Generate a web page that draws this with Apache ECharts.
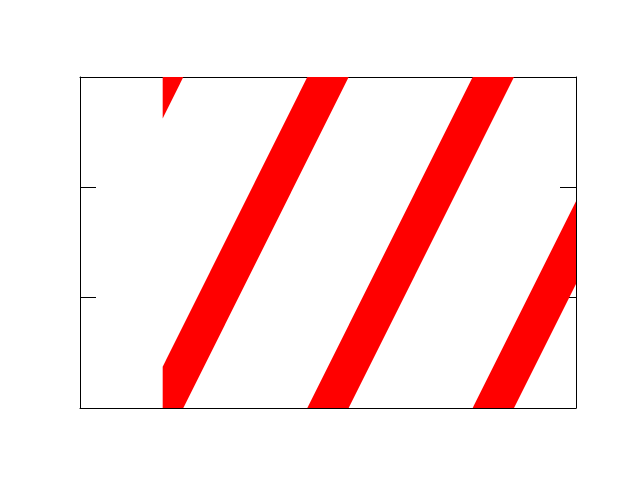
<!DOCTYPE html>
<html>
<head>
<meta charset="utf-8">
<script src="https://cdn.jsdelivr.net/npm/echarts@6/dist/echarts.min.js"></script>
<style>html,body{margin:0;padding:0;background:#fff;}#c{width:640px;height:480px;}</style>
</head>
<body>
<div id="c"></div>
<script>
// Stripe edges (data units): left/right edge at bottom (y=0) and at top (y=3)
const stripeLeftBottom  = [-1.25, 0.75, 2.75, 4.75];
const stripeRightBottom = [-0.75, 1.25, 3.25, 5.25];
const stripeLeftTop     = [0.75, 2.75, 4.75, 6.75];
const stripeRightTop    = [1.25, 3.25, 5.25, 7.25];
// Extent of the sampled data region
const dataXRange = [1, 6];
const dataYRange = [0, 3];
// Axis ranges
const xRange = [0, 6];
const yRange = [0, 3];
const yTickInterval = 1;

const stripes = stripeLeftBottom.map((v, i) =>
  [v, stripeRightBottom[i], stripeLeftTop[i], stripeRightTop[i]]);

function clipEdge(pts, inside, intersect) {
  const out = [];
  for (let i = 0; i < pts.length; i++) {
    const cur = pts[i], prev = pts[(i + pts.length - 1) % pts.length];
    const ci = inside(cur), pi = inside(prev);
    if (ci) {
      if (!pi) out.push(intersect(prev, cur));
      out.push(cur);
    } else if (pi) {
      out.push(intersect(prev, cur));
    }
  }
  return out;
}
function clipPoly(pts, x0, x1, y0, y1) {
  const ix = (x) => (a, b) => { const t = (x - a[0]) / (b[0] - a[0]); return [x, a[1] + t * (b[1] - a[1])]; };
  const iy = (y) => (a, b) => { const t = (y - a[1]) / (b[1] - a[1]); return [a[0] + t * (b[0] - a[0]), y]; };
  pts = clipEdge(pts, p => p[0] >= x0, ix(x0)); if (!pts.length) return pts;
  pts = clipEdge(pts, p => p[0] <= x1, ix(x1)); if (!pts.length) return pts;
  pts = clipEdge(pts, p => p[1] >= y0, iy(y0)); if (!pts.length) return pts;
  pts = clipEdge(pts, p => p[1] <= y1, iy(y1));
  return pts;
}

const chart = echarts.init(document.getElementById('c'), null, {renderer: 'canvas'});
const blackLine = {show: true, onZero: false, lineStyle: {color: '#000', width: 1}};
const tick = {show: true, inside: true, length: 16, lineStyle: {color: '#000', width: 1}};
chart.setOption({
  animation: false,
  backgroundColor: '#fff',
  grid: {left: 80, right: 64, top: 77, bottom: 72, containLabel: false},
  xAxis: [
    {type: 'value', min: xRange[0], max: xRange[1], position: 'bottom',
     axisLine: blackLine, axisTick: {show: false}, axisLabel: {show: false}, splitLine: {show: false}},
    {type: 'value', min: xRange[0], max: xRange[1], position: 'top',
     axisLine: blackLine, axisTick: {show: false}, axisLabel: {show: false}, splitLine: {show: false}}
  ],
  yAxis: [
    {type: 'value', min: yRange[0], max: yRange[1], interval: yTickInterval, position: 'left',
     axisLine: blackLine, axisTick: tick, axisLabel: {show: false}, splitLine: {show: false}},
    {type: 'value', min: yRange[0], max: yRange[1], interval: yTickInterval, position: 'right',
     axisLine: blackLine, axisTick: tick, axisLabel: {show: false}, splitLine: {show: false}}
  ],
  series: [{
    type: 'custom',
    xAxisIndex: 0, yAxisIndex: 0,
    clip: true,
    z: 1,
    data: stripes,
    encode: {x: [0, 1, 2, 3]},
    renderItem: function (params, api) {
      const lb = api.value(0), rb = api.value(1), lt = api.value(2), rt = api.value(3);
      let poly = [[lb, yRange[0]], [rb, yRange[0]], [rt, yRange[1]], [lt, yRange[1]]];
      poly = clipPoly(poly, dataXRange[0], dataXRange[1], dataYRange[0], dataYRange[1]);
      if (poly.length < 3) return null;
      return {
        type: 'polygon',
        shape: {points: poly.map(p => api.coord(p))},
        style: {fill: '#ff0000', stroke: null}
      };
    }
  }]
});
</script>
</body>
</html>
